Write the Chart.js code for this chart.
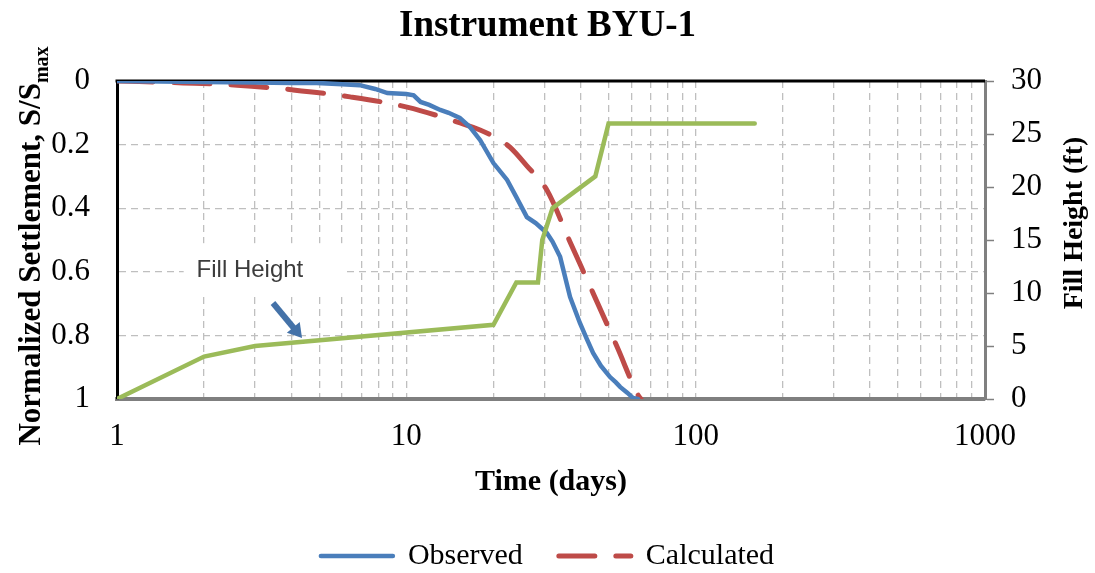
<!DOCTYPE html>
<html lang="en">
<head>
    <meta charset="UTF-8">
    <title>Instrument BYU-1</title>
    <script src="https://cdn.jsdelivr.net/npm/chart.js"></script>
    <style>
        body { margin: 0; background: #fff; }
        .wrap { width: 1095px; height: 573px; position: relative; }
    </style>
</head>
<body>
    <div class="wrap"><canvas id="chart"></canvas></div>
    <script>
        // Observed settlement (S/Smax) vs time (days)
        const obsDays = [1, 2, 3, 4, 4.9, 6, 6.9, 7.8, 8.6, 10, 10.6, 11.2, 12, 13.1, 14, 15.3, 16.6, 18, 20, 22.3,
                         24, 26.1, 28, 30.6, 32, 34, 36.8, 39.8, 42, 44.2, 47, 50.6, 53, 54.8, 58, 60.8, 63.2];
        const obsSettle = [0, 0.003, 0.005, 0.006, 0.006, 0.01, 0.013, 0.025, 0.038, 0.041, 0.045, 0.066, 0.075, 0.091, 0.1, 0.116, 0.145, 0.186, 0.258, 0.311,
                           0.365, 0.428, 0.447, 0.478, 0.505, 0.553, 0.679, 0.761, 0.81, 0.855, 0.895, 0.931, 0.948, 0.962, 0.98, 0.997, 1];

        // Calculated settlement
        const calcDays = [1, 1.69, 2.6, 4.06, 6.39, 10.05, 15.34, 17.98, 21.1, 22.8, 26, 30.6, 36.8, 44.2, 53.5, 63.2, 64.7];
        const calcSettle = [0, 0.006, 0.013, 0.028, 0.05, 0.082, 0.132, 0.154, 0.186, 0.208, 0.265, 0.343, 0.506, 0.667, 0.836, 0.987, 1];

        // Fill height (ft), right axis
        const fillDays = [1, 2, 3, 20, 24, 28.5, 29.5, 32, 45, 50, 160];
        const fillFeet = [0, 4, 5, 7, 11, 11, 15, 18, 21, 26, 26];

        // axis ticks
        const timeLabels = [1, 10, 100, 1000];
        const settleTicks = [0, 0.2, 0.4, 0.6, 0.8, 1];
        const fillTicks = [0, 5, 10, 15, 20, 25, 30];

        // grid lines at every 1..9 multiple of each decade
        const timeGrid = [];
        for (let d = 0; d < timeLabels.length - 1; d++) {
            for (let m = 1; m < 10; m++) timeGrid.push(timeLabels[d] * m);
        }
        timeGrid.push(timeLabels[timeLabels.length - 1]);

        const toPoints = (xs, ys) => xs.map((x, i) => ({ x: x, y: ys[i] }));

        const serif = "'Liberation Serif', 'Times New Roman', serif";
        const gridColor = '#BFBFBF';

        // top frame, note box, arrow and the rotated axis titles
        const extras = {
            id: 'extras',
            beforeDatasetsDraw(chart) {
                const { ctx, chartArea: a, scales: { x, y } } = chart;
                ctx.save();
                ctx.fillStyle = '#fff';
                const l = x.getPixelForValue(1.7), r = x.getPixelForValue(6.2);
                const t = y.getPixelForValue(0.51), b = y.getPixelForValue(0.665);
                ctx.fillRect(l, t, r - l, b - t);
                ctx.strokeStyle = '#000';
                ctx.lineWidth = 3;
                ctx.beginPath();
                ctx.moveTo(a.left - 1.5, a.top);
                ctx.lineTo(a.right, a.top);
                ctx.stroke();

                // "Fill Height" note
                ctx.filter = 'blur(0.5px)';
                ctx.fillStyle = '#3c3c3c';
                ctx.font = "24px 'Liberation Sans', Arial, sans-serif";
                ctx.textAlign = 'center';
                ctx.textBaseline = 'middle';
                ctx.fillText('Fill Height', x.getPixelForValue(2.88), y.getPixelForValue(0.597));
                ctx.restore();
            },
            afterDraw(chart) {
                const { ctx, scales: { x, y } } = chart;
                ctx.save();

                // arrow pointing at the fill line
                const x1 = x.getPixelForValue(3.46), y1 = y.getPixelForValue(0.698);
                const x2 = x.getPixelForValue(4.36), y2 = y.getPixelForValue(0.808);
                const ang = Math.atan2(y2 - y1, x2 - x1);
                ctx.strokeStyle = '#4472A8';
                ctx.fillStyle = '#4472A8';
                ctx.lineWidth = 6;
                ctx.beginPath();
                ctx.moveTo(x1, y1);
                ctx.lineTo(x2 - 10 * Math.cos(ang), y2 - 10 * Math.sin(ang));
                ctx.stroke();
                ctx.beginPath();
                ctx.moveTo(x2, y2);
                ctx.lineTo(x2 - 16 * Math.cos(ang - 0.55), y2 - 16 * Math.sin(ang - 0.55));
                ctx.lineTo(x2 - 16 * Math.cos(ang + 0.55), y2 - 16 * Math.sin(ang + 0.55));
                ctx.closePath();
                ctx.fill();

                // left axis title with subscript
                ctx.fillStyle = '#000';
                const main = 'Normalized Settlement, S/S';
                const sub = 'max';
                ctx.font = 'bold 31px ' + serif;
                const wMain = ctx.measureText(main).width;
                ctx.font = 'bold 20px ' + serif;
                const wSub = ctx.measureText(sub).width;
                ctx.translate(40, 246);
                ctx.rotate(-Math.PI / 2);
                ctx.textAlign = 'left';
                ctx.textBaseline = 'alphabetic';
                const x0 = -(wMain + wSub) / 2;
                ctx.font = 'bold 31px ' + serif;
                ctx.fillText(main, x0, 0);
                ctx.font = 'bold 20px ' + serif;
                ctx.fillText(sub, x0 + wMain, 8);
                ctx.restore();

                // right axis title
                ctx.save();
                ctx.translate(1075, 223);
                ctx.rotate(-Math.PI / 2);
                ctx.fillStyle = '#000';
                ctx.font = 'bold 28px ' + serif;
                ctx.textAlign = 'center';
                ctx.textBaseline = 'middle';
                ctx.fillText('Fill Height (ft)', 0, 0);
                ctx.restore();
            }
        };

        const ctx = document.getElementById('chart').getContext('2d');
        new Chart(ctx, {
            type: 'line',
            data: {
                datasets: [{
                    label: 'Observed',
                    data: toPoints(obsDays, obsSettle),
                    yAxisID: 'y',
                    borderColor: '#4A7EBB',
                    backgroundColor: '#4A7EBB',
                    borderWidth: 4.5,
                    borderCapStyle: 'round',
                    pointRadius: 0,
                    tension: 0,
                    order: 1
                }, {
                    label: 'Calculated',
                    data: toPoints(calcDays, calcSettle),
                    yAxisID: 'y',
                    borderColor: '#BE4B48',
                    backgroundColor: '#BE4B48',
                    borderWidth: 5,
                    borderDash: [36, 21],
                    borderCapStyle: 'round',
                    pointRadius: 0,
                    cubicInterpolationMode: 'monotone',
                    order: 2
                }, {
                    label: 'Fill Height',
                    data: toPoints(fillDays, fillFeet),
                    yAxisID: 'y2',
                    borderColor: '#9BBB59',
                    backgroundColor: '#9BBB59',
                    borderWidth: 4.5,
                    borderCapStyle: 'round',
                    pointRadius: 0,
                    tension: 0,
                    order: 0
                }]
            },
            options: {
                responsive: true,
                maintainAspectRatio: false,
                animation: false,
                layout: { padding: { left: 0, right: 0, top: 0, bottom: -8 } },
                scales: {
                    x: {
                        type: 'logarithmic',
                        min: 1,
                        max: 1000,
                        afterFit: s => { s.height = 106; },
                        afterBuildTicks: s => { s.ticks = timeGrid.map(v => ({ value: v })); },
                        ticks: {
                            autoSkip: false,
                            maxRotation: 0,
                            padding: 22,
                            color: '#000',
                            font: { family: serif, size: 31, lineHeight: 1 },
                            callback: v => timeLabels.includes(v) ? String(v) : ''
                        },
                        grid: { color: gridColor, lineWidth: 1.3, drawTicks: false },
                        border: { color: '#7F7F7F', width: 4, dash: [7, 5] },
                        title: {
                            display: true,
                            text: 'Time (days)',
                            color: '#000',
                            font: { family: serif, size: 30, weight: 'bold', lineHeight: 1 },
                            padding: { top: 0, bottom: 8 }
                        }
                    },
                    y: {
                        position: 'left',
                        reverse: true,
                        min: 0,
                        max: 1,
                        afterFit: s => { s.width = 117; },
                        afterBuildTicks: s => { s.ticks = settleTicks.map(v => ({ value: v })); },
                        ticks: {
                            padding: 27,
                            color: '#000',
                            font: { family: serif, size: 31 },
                            callback: v => String(+v.toFixed(1))
                        },
                        grid: { color: gridColor, lineWidth: 1.3, drawTicks: false },
                        border: { color: '#000', width: 3, dash: [7, 5] }
                    },
                    y2: {
                        position: 'right',
                        min: 0,
                        max: 30,
                        afterFit: s => { s.width = 110; },
                        afterBuildTicks: s => { s.ticks = fillTicks.map(v => ({ value: v })); },
                        ticks: {
                            padding: 17,
                            color: '#000',
                            font: { family: serif, size: 31 }
                        },
                        grid: { drawOnChartArea: false, drawTicks: true, tickLength: 9, tickColor: '#808080', tickWidth: 1.5 },
                        border: { color: '#808080', width: 3 }
                    }
                },
                plugins: {
                    title: {
                        display: true,
                        text: 'Instrument BYU-1',
                        color: '#000',
                        font: { family: serif, size: 37, weight: 'bold', lineHeight: 1.2 },
                        padding: { top: 4, bottom: 32.6 }
                    },
                    legend: {
                        position: 'bottom',
                        labels: {
                            filter: item => item.text !== 'Fill Height',
                            generateLabels: chart => Chart.defaults.plugins.legend.labels.generateLabels(chart).map(item => {
                                const ds = chart.data.datasets[item.datasetIndex];
                                item.lineDash = ds.borderDash || [];
                                item.lineCap = 'round';
                                item.lineWidth = ds.borderWidth;
                                return item;
                            }),
                            usePointStyle: true,
                            pointStyle: 'line',
                            pointStyleWidth: 72,
                            padding: 36,
                            color: '#000',
                            font: { family: serif, size: 30 }
                        }
                    },
                    tooltip: { enabled: false }
                }
            },
            plugins: [extras]
        });
    </script>
</body>
</html>
